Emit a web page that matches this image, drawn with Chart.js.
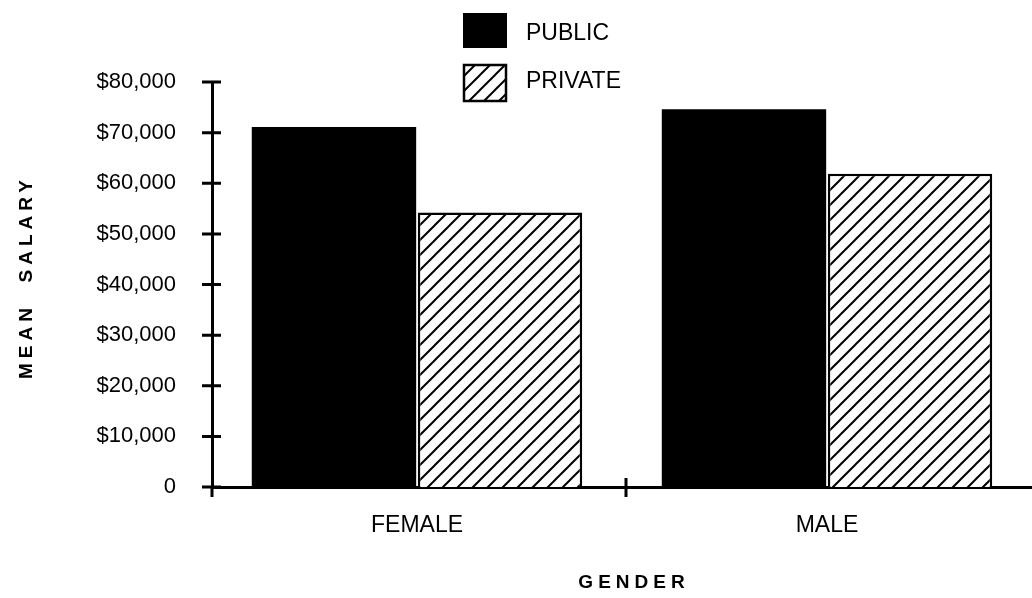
<!DOCTYPE html>
<html>
<head>
<meta charset="utf-8">
<script src="https://cdn.jsdelivr.net/npm/chart.js@4/dist/chart.umd.min.js"></script>
<style>
  html, body { margin: 0; padding: 0; background: #fff; }
  #wrap { width: 1032px; height: 598px; }
</style>
</head>
<body>
<div id="wrap"><canvas id="chart" width="1032" height="598"></canvas></div>
<script>
// data
const genders = ['FEMALE', 'MALE'];
const publicSalary  = [71100, 74600];
const privateSalary = [54200, 61900];
const yTicks = [0, 10000, 20000, 30000, 40000, 50000, 60000, 70000, 80000];
const seriesNames = ['PUBLIC', 'PRIVATE'];

const FONT = '"Liberation Sans", Arial, Helvetica, sans-serif';

// diagonal hatch
function makeHatch() {
  const s = 15;
  const c = document.createElement('canvas');
  c.width = s; c.height = s;
  const g = c.getContext('2d');
  g.fillStyle = '#fff';
  g.fillRect(0, 0, s, s);
  g.strokeStyle = '#000';
  g.lineWidth = 2;
  g.beginPath();
  g.moveTo(-2, s + 2); g.lineTo(s + 2, -2);
  g.moveTo(-2 - s, s + 2); g.lineTo(2, -2);
  g.moveTo(s - 2, s + 2); g.lineTo(s + 2 + s, -2);
  g.stroke();
  return g.createPattern(c, 'repeat');
}
const ctx = document.getElementById('chart').getContext('2d');
const hatch = makeHatch();

// tick marks crossing the axes, legend and axis titles
const decor = {
  id: 'decor',
  afterDraw(chart) {
    const c = chart.ctx;
    const x = chart.scales.x, y = chart.scales.y;
    const ax = chart.chartArea.left, ay = chart.chartArea.bottom;
    c.save();
    c.strokeStyle = '#000';
    c.lineWidth = 3;
    c.beginPath();
    yTicks.forEach(v => {
      const py = y.getPixelForValue(v);
      c.moveTo(ax - 10, py); c.lineTo(ax + 9, py);
    });
    const mid = (x.getPixelForValue(0) + x.getPixelForValue(1)) / 2;
    c.moveTo(ax, ay); c.lineTo(ax, ay + 10);
    c.moveTo(mid + 4, ay - 9); c.lineTo(mid + 4, ay + 10);
    c.stroke();

    // legend
    c.fillStyle = '#000';
    c.fillRect(463, 13, 44, 35);
    c.fillStyle = hatch;
    c.fillRect(464, 65, 42, 36);
    c.lineWidth = 2.5;
    c.strokeRect(464, 65, 42, 36);
    c.fillStyle = '#000';
    c.font = '23px ' + FONT;
    c.textAlign = 'left';
    c.textBaseline = 'middle';
    c.fillText(seriesNames[0], 526, 34);
    c.fillText(seriesNames[1], 526, 82);

    // axis titles
    c.font = 'bold 19px ' + FONT;
    c.letterSpacing = '5px';
    c.textAlign = 'center';
    c.fillText('GENDER', 634, 583);
    c.translate(27, 280);
    c.rotate(-Math.PI / 2);
    c.fillText('MEAN  SALARY', 3, 0);
    c.restore();
  }
};

new Chart(ctx, {
  type: 'bar',
  data: {
    labels: genders,
    datasets: [
      { label: seriesNames[0], data: publicSalary, backgroundColor: '#000', borderColor: '#000', borderWidth: 0 },
      { label: seriesNames[1], data: privateSalary, backgroundColor: hatch, borderColor: '#000', borderWidth: 2.5, borderSkipped: 'bottom' }
    ]
  },
  options: {
    responsive: false,
    animation: false,
    events: [],
    layout: { padding: { top: 82, left: 0, right: 0, bottom: 0 } },
    datasets: { bar: { categoryPercentage: 0.81, barPercentage: 0.99 } },
    plugins: { legend: { display: false }, tooltip: { enabled: false } },
    scales: {
      x: {
        grid: { display: false, drawTicks: false },
        border: { color: '#000', width: 3 },
        ticks: { color: '#000', font: { family: FONT, size: 23 }, padding: 25 },
        afterFit(s) { s.height = 111; }
      },
      y: {
        min: 0, max: 80000,
        afterBuildTicks(s) { s.ticks = yTicks.map(v => ({ value: v })); },
        grid: { display: false, drawTicks: false },
        border: { color: '#000', width: 3 },
        ticks: {
          color: '#000', font: { family: FONT, size: 22 }, padding: 36,
          callback: v => v === 0 ? '0' : '$' + v.toLocaleString('en-US')
        },
        afterFit(s) { s.width = 212; }
      }
    }
  },
  plugins: [decor]
});
</script>
</body>
</html>
